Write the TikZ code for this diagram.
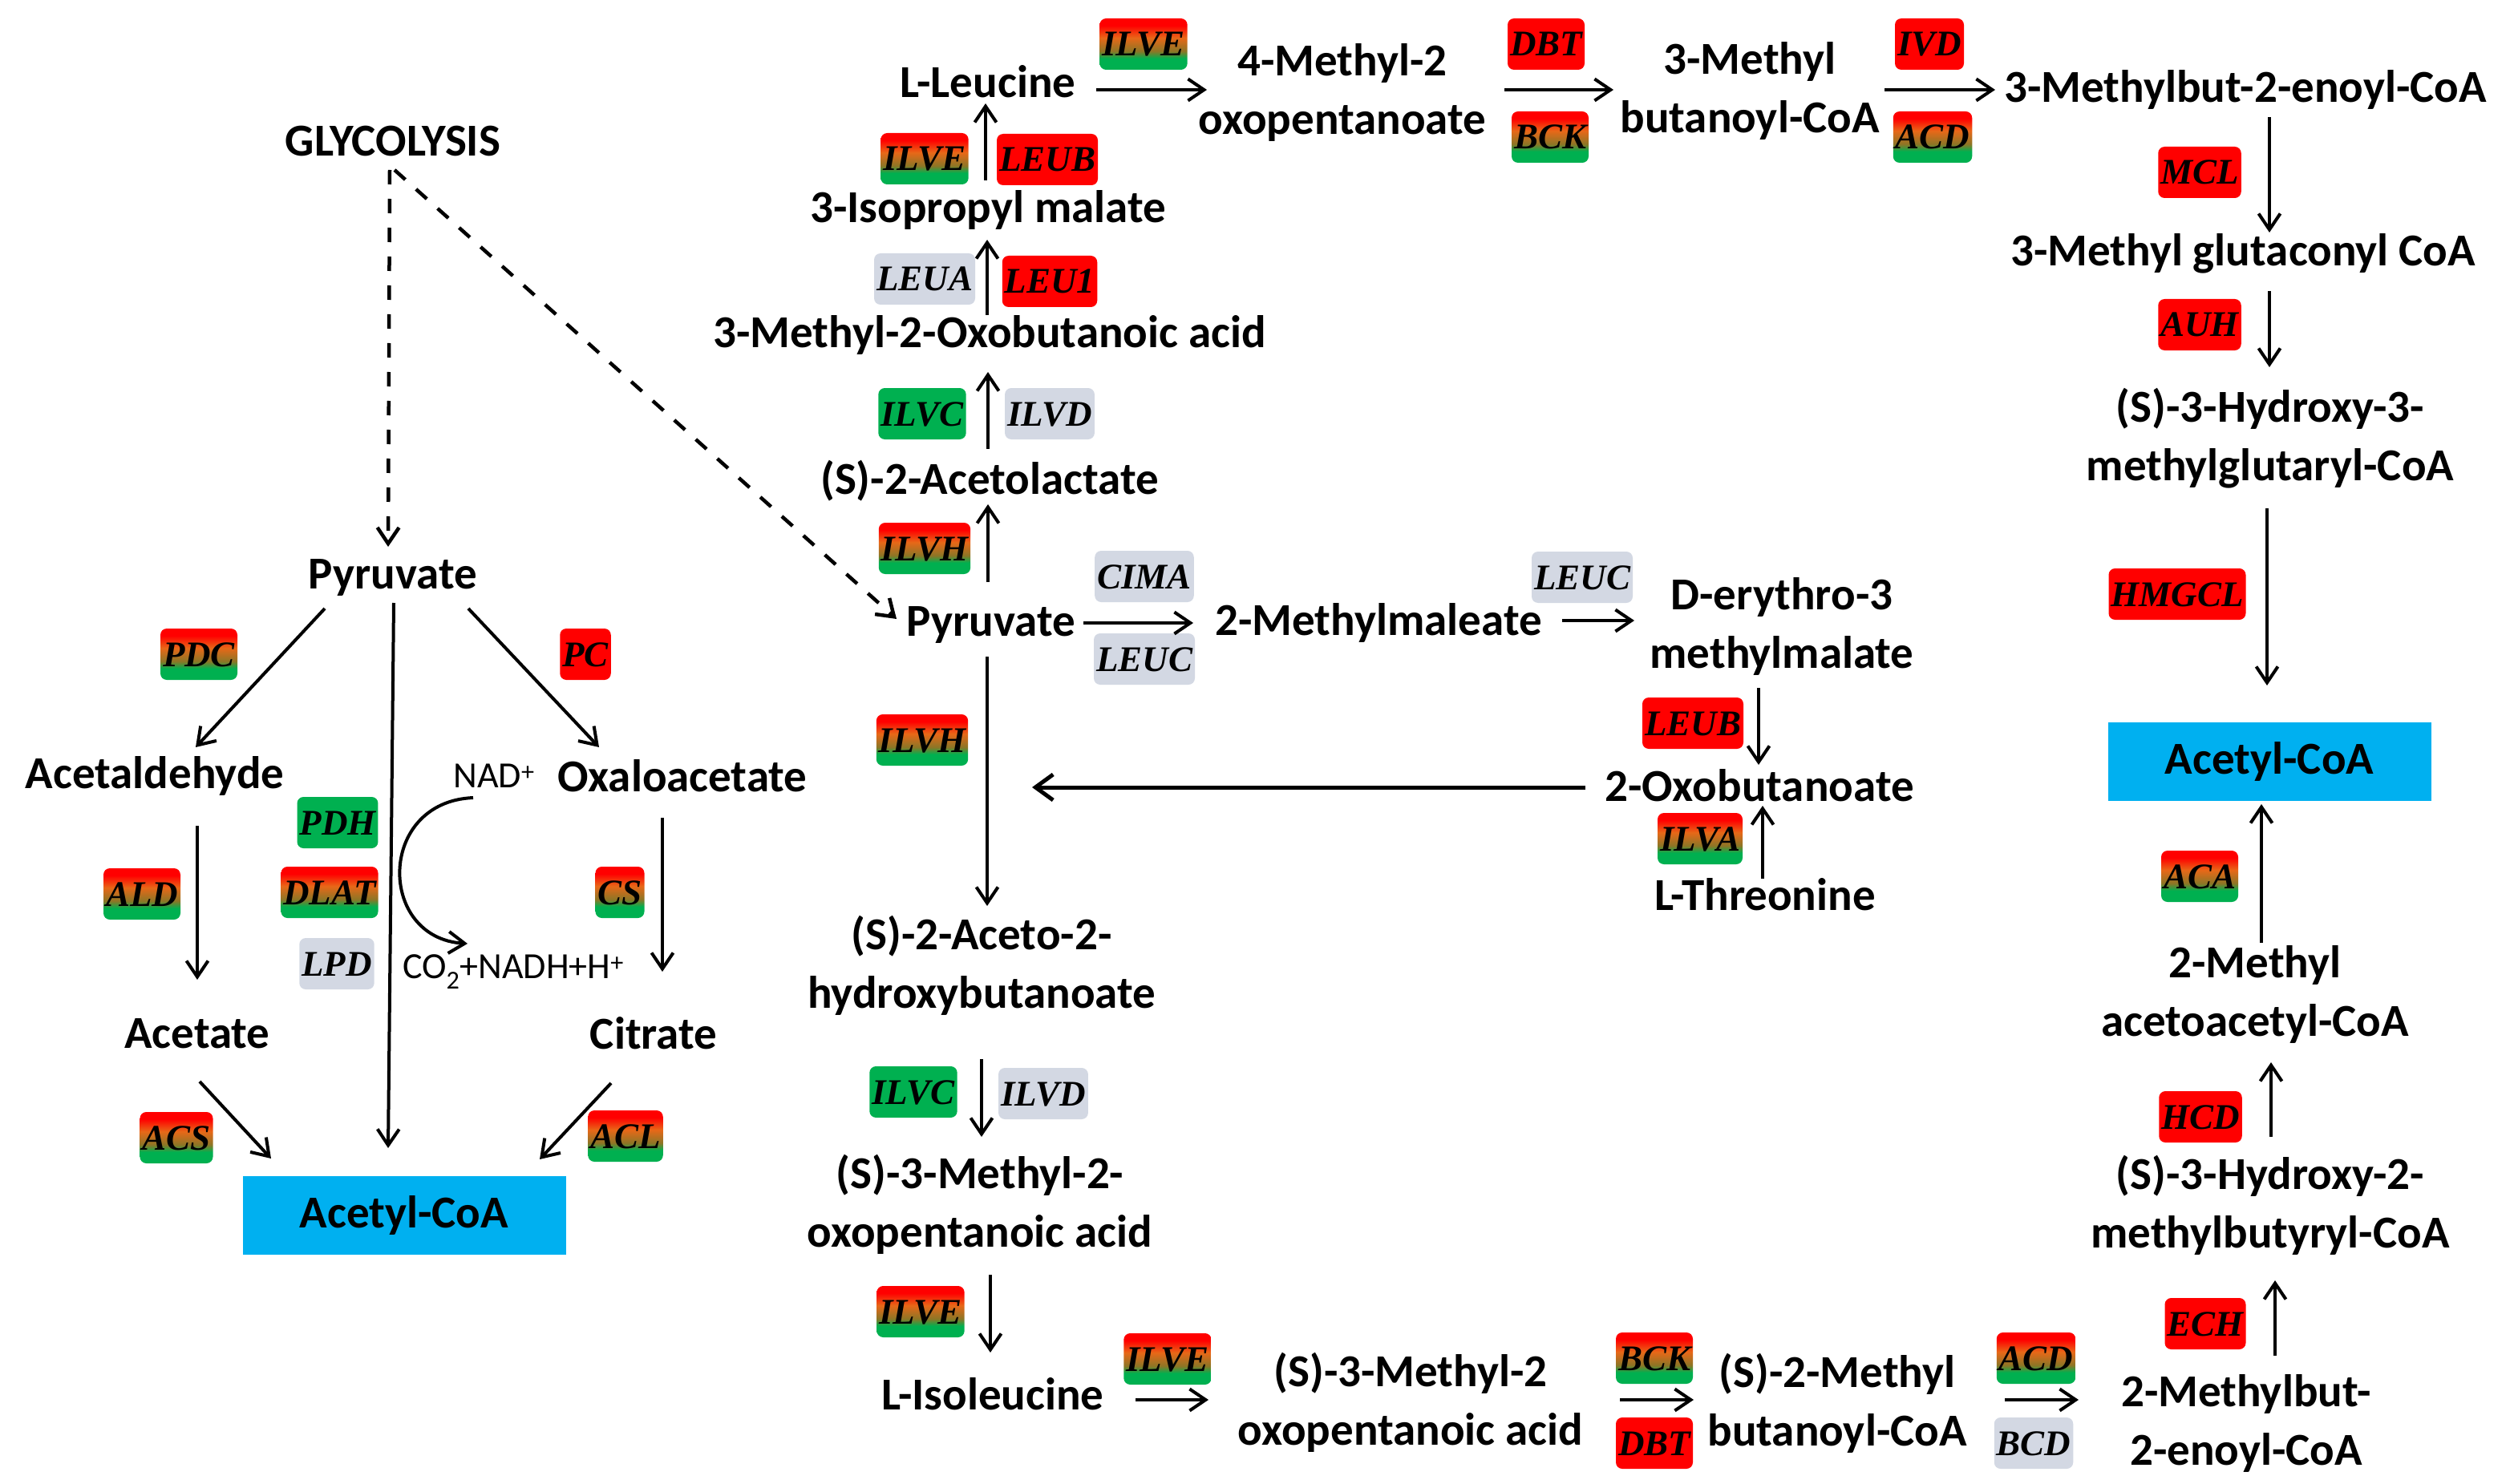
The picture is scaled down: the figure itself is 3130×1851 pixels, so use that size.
\documentclass[tikz,border=0pt]{standalone}
\usepackage{fontspec}
\setmainfont{Carlito}
\newfontfamily\genefam{Liberation Serif}
\usetikzlibrary{arrows.meta,calc}
\definecolor{gR}{HTML}{FF0000}
\definecolor{gG}{HTML}{00B050}
\definecolor{gO}{RGB}{232,104,24}
\definecolor{gM}{RGB}{140,118,38}
\definecolor{gY}{HTML}{D3D8E3}
\definecolor{cB}{HTML}{00B0F0}
\pgfdeclareverticalshading{rgshade}{100bp}{color(0bp)=(gG); color(25bp)=(gG); color(36bp)=(gG); color(43bp)=(gM); color(56bp)=(gO); color(68bp)=(gR); color(75bp)=(gR); color(100bp)=(gR)}
\newcommand\metfont{\fontsize{57}{73}\selectfont\bfseries}
\newcommand\genefont{\genefam\fontsize{45}{50}\selectfont\bfseries\itshape}
\newcommand\cofont{\fontsize{46}{52}\selectfont}
\begin{document}
\begin{tikzpicture}[x=1pt,y=-1pt,
  met/.style={font=\metfont, align=center, inner sep=0pt},
  gene/.style={rounded corners=8pt, inner xsep=3pt, inner ysep=0pt, minimum height=64pt, text height=30pt, text depth=0pt, font=\genefont},
  gr/.style={gene, shading=rgshade},
  rd/.style={gene, fill=gR},
  gn/.style={gene, fill=gG},
  gy/.style={gene, fill=gY},
  coa/.style={fill=cB, minimum width=403pt, minimum height=98pt, inner sep=0pt, font=\metfont},
  arr/.style={line width=4pt, -{Straight Barb[length=20pt,width=27pt]}},
  darr/.style={line width=4.5pt, dash pattern=on 18pt off 18pt, -{Straight Barb[length=20pt,width=27pt]}},
  barr/.style={line width=5pt, -{Straight Barb[length=22pt,width=32pt]}}
]
\useasboundingbox (0,0) rectangle (3130,1851);

% ---------- left part ----------
\node[met] (glyc) at (490,176) {GLYCOLYSIS};
\node[met] (pyrL) at (490,720) {Pyruvate};
\node[met] (acald) at (193,968) {Acetaldehyde};
\node[met] (oxa) at (851,968) {Oxaloacetate};
\node[font=\cofont, inner sep=0pt] (nad) at (616,968) {NAD\textsuperscript{+}};
\node[font=\cofont, inner sep=0pt] (co2) at (640,1212) {CO\textsubscript{2}+NADH+H\textsuperscript{+}};
\node[met] (acetate) at (246,1289) {Acetate};
\node[met] (citrate) at (815,1289) {Citrate};
\node[coa] (acoaL) at (504,1516) {Acetyl-CoA};

\node[gr] (gPDC) at (248,816) {PDC};
\node[rd] (gPC) at (730,816) {PC};
\node[gn] (gPDH) at (421,1026) {PDH};
\node[gr] (gDLAT) at (411,1113) {DLAT};
\node[gy] (gLPD) at (420,1202) {LPD};
\node[gr] (gALD) at (177,1115) {ALD};
\node[gr] (gCS) at (773,1113) {CS};
\node[gr] (gACS) at (220,1419) {ACS};
\node[gr] (gACL) at (780,1417) {ACL};

% ---------- centre / right ----------
\node[met] (lleu) at (1232,102) {L-Leucine};
\node[met] (isop) at (1232,262) {3-Isopropyl malate};
\node[met] (mob) at (1234,418) {3-Methyl-2-Oxobutanoic acid};
\node[met] (acl) at (1234,600) {(S)-2-Acetolactate};
\node[met] (pyrC) at (1236,779) {Pyruvate};
\node[met] (aceto) at (1224,1204) {(S)-2-Aceto-2-\\hydroxybutanoate};
\node[met] (mto) at (1222,1502) {(S)-3-Methyl-2-\\oxopentanoic acid};
\node[met] (ile) at (1238,1739) {L-Isoleucine};
\node[met] (mop) at (1759,1749) {(S)-3-Methyl-2\\oxopentanoic acid};
\node[met] (mbc) at (2291,1750) {(S)-2-Methyl\\butanoyl-CoA};
\node[met] (mbe) at (2801,1775) {2-Methylbut-\\2-enoyl-CoA};
\node[met] (hmb) at (2831,1503) {(S)-3-Hydroxy-2-\\methylbutyryl-CoA};
\node[met] (maa) at (2812,1240) {2-Methyl\\acetoacetyl-CoA};
\node[coa] (acoaR) at (2830,950) {Acetyl-CoA};
\node[met] (mpo) at (1674,115) {4-Methyl-2\\oxopentanoate};
\node[met] (mbut) at (2182,113) {3-Methyl\\butanoyl-CoA};
\node[met] (mbeb) at (2800,112) {3-Methylbut-2-enoyl-CoA};
\node[met] (mgc) at (2797,316) {3-Methyl glutaconyl CoA};
\node[met] (hmg) at (2831,547) {(S)-3-Hydroxy-3-\\methylglutaryl-CoA};
\node[met] (mm) at (1719,777) {2-Methylmaleate};
\node[met] (dem) at (2222,781) {D-erythro-3\\methylmalate};
\node[met] (oxb) at (2194,980) {2-Oxobutanoate};
\node[met] (thr) at (2201,1116) {L-Threonine};
\coordinate (join) at (1287,982);

\node[gr] (gILVEa) at (1426,55) {ILVE};
\node[rd] (gDBTa) at (1928,55) {DBT};
\node[gr] (gBCKa) at (1933,171) {BCK};
\node[rd] (gIVD) at (2406,55) {IVD};
\node[gr] (gACDa) at (2410,171) {ACD};
\node[rd] (gMCL) at (2743,215) {MCL};
\node[rd] (gAUH) at (2743,405) {AUH};
\node[rd] (gHMGCL) at (2715,741) {HMGCL};
\node[gr] (gILVEb) at (1153,198) {ILVE};
\node[rd] (gLEUBa) at (1306,199) {LEUB};
\node[gy] (gLEUA) at (1153,348) {LEUA};
\node[rd] (gLEUone) at (1309,351) {LEU1};
\node[gn] (gILVCa) at (1150,516) {ILVC};
\node[gy] (gILVDa) at (1309,516) {ILVD};
\node[gr] (gILVHa) at (1153,684) {ILVH};
\node[gy] (gCIMA) at (1427,719) {CIMA};
\node[gy] (gLEUCa) at (1427,822) {LEUC};
\node[gy] (gLEUCb) at (1973,720) {LEUC};
\node[rd] (gLEUBb) at (2111,902) {LEUB};
\node[gr] (gILVA) at (2120,1046) {ILVA};
\node[gr] (gILVHb) at (1150,923) {ILVH};
\node[gn] (gILVCb) at (1139,1362) {ILVC};
\node[gy] (gILVDb) at (1301,1364) {ILVD};
\node[gr] (gILVEc) at (1148,1636) {ILVE};
\node[gr] (gILVEd) at (1456,1695) {ILVE};
\node[gr] (gBCKb) at (2063,1694) {BCK};
\node[rd] (gDBTb) at (2063,1800) {DBT};
\node[gr] (gACDb) at (2539,1694) {ACD};
\node[gy] (gBCD) at (2536,1800) {BCD};
\node[gr] (gACA) at (2743,1093) {ACA};
\node[rd] (gHCD) at (2744,1393) {HCD};
\node[rd] (gECH) at (2750,1651) {ECH};

% ---------- connectors left ----------
\draw[darr] ($(glyc)+(-4,36)$) -- ($(pyrL)+(-6,-38)$);
\draw[darr] ($(glyc)+(2,36)$) -- ($(pyrC)+(-118,-7)$);
\draw[arr] ($(pyrL)+(-85,39)$) -- ($(acald)+(51,-36)$);
\draw[arr] ($(pyrL)+(94,39)$) -- ($(oxa)+(-104,-36)$);
\draw[arr] ($(pyrL)+(1,32)$) -- ($(acoaL)+(-20,-84)$);
\draw[arr] ($(acald)+(53,62)$) -- ($(acetate)+(0,-67)$);
\draw[arr] ($(oxa)+(-25,52)$) -- ($(citrate)+(11,-77)$);
\draw[arr] ($(acetate)+(3,60)$) -- ($(acoaL)+(-166,-71)$);
\draw[arr] ($(citrate)+(-53,62)$) -- ($(acoaL)+(169,-70)$);
\draw[arr] ($(nad)+(-26,27)$) .. controls ($(nad)+(-146,32)$) and ($(co2)+(-170,-42)$) .. ($(co2)+(-57,-35)$);

% ---------- connectors centre / right ----------
\draw[arr] ($(isop)+(-3,-37)$) -- ($(lleu)+(-3,27)$);
\draw[arr] ($(mob)+(-3,-25)$) -- ($(isop)+(-1,37)$);
\draw[arr] ($(acl)+(-2,-40)$) -- ($(mob)+(-2,46)$);
\draw[arr] ($(pyrC)+(-4,-53)$) -- ($(acl)+(-2,29)$);
\draw[arr] ($(pyrC)+(-5,40)$) -- ($(aceto)+(7,-74)$);
\draw[arr] ($(aceto)+(0,117)$) -- ($(mto)+(2,-84)$);
\draw[arr] ($(mto)+(13,88)$) -- ($(ile)+(-3,-52)$);
\draw[arr] ($(ile)+(178,7)$) -- ($(mop)+(-252,-3)$);
\draw[arr] ($(mop)+(261,-3)$) -- ($(mbc)+(-179,-4)$);
\draw[arr] ($(mbc)+(209,-4)$) -- ($(mbe)+(-209,-29)$);
\draw[arr] ($(mbe)+(36,-84)$) -- ($(hmb)+(6,94)$);
\draw[arr] ($(hmb)+(1,-85)$) -- ($(maa)+(20,85)$);
\draw[arr] ($(maa)+(8,-64)$) -- ($(acoaR)+(-10,53)$);
\draw[arr] ($(lleu)+(135,10)$) -- ($(mpo)+(-169,-3)$);
\draw[arr] ($(mpo)+(202,-3)$) -- ($(mbut)+(-170,-1)$);
\draw[arr] ($(mbut)+(168,-1)$) -- ($(mbeb)+(-312,0)$);
\draw[arr] ($(mbeb)+(30,34)$) -- ($(mgc)+(33,-26)$);
\draw[arr] ($(mgc)+(33,47)$) -- ($(hmg)+(-1,-89)$);
\draw[arr] ($(hmg)+(-4,87)$) -- ($(acoaR)+(-3,-95)$);
\draw[arr] ($(pyrC)+(115,-2)$) -- ($(mm)+(-231,0)$);
\draw[arr] ($(mm)+(229,-3)$) -- ($(dem)+(-184,-7)$);
\draw[arr] ($(dem)+(-29,77)$) -- ($(oxb)+(-1,-26)$);
\draw[arr] ($(thr)+(-3,-20)$) -- ($(oxb)+(4,25)$);
\draw[barr] ($(oxb)+(-217,2)$) -- (join);
\end{tikzpicture}
\end{document}
